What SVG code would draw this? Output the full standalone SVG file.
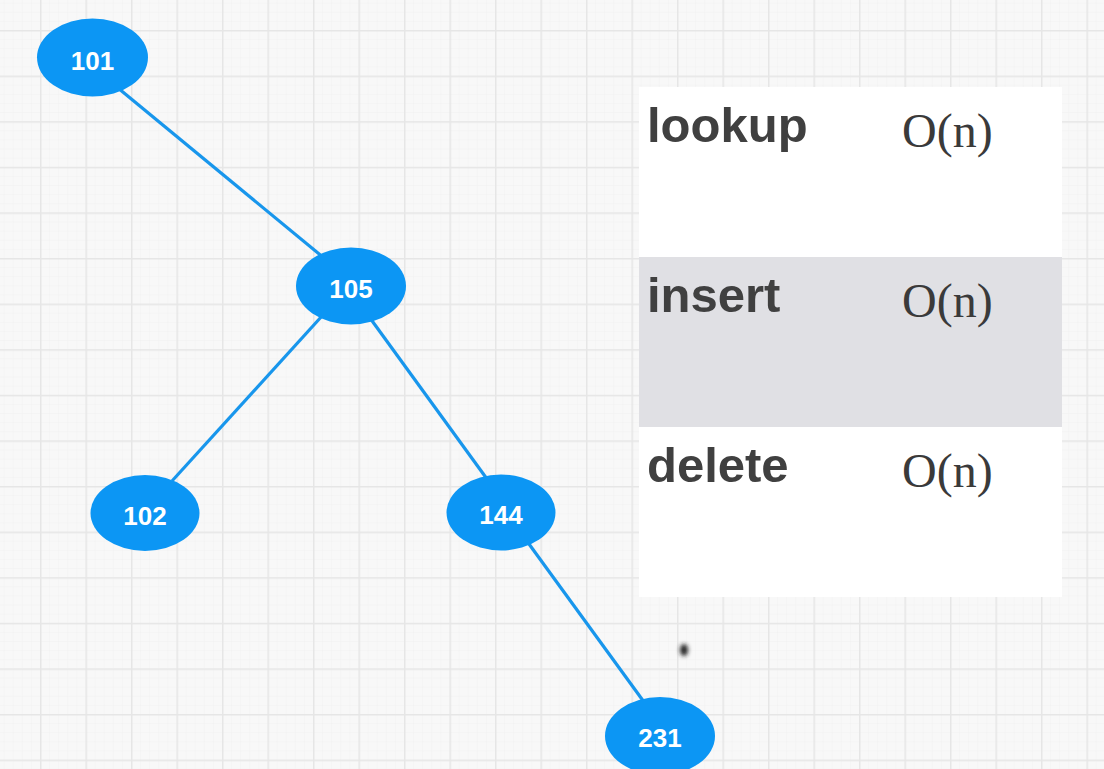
<svg xmlns="http://www.w3.org/2000/svg" width="1104" height="769" viewBox="0 0 1104 769">
  <defs>
    <pattern id="minor" x="40" y="30" width="9.1" height="9.12" patternUnits="userSpaceOnUse">
      <path d="M0 0V9.12M0 0H9.1" fill="none" stroke="#eeeeee" stroke-width="0.6"/>
    </pattern>
    <pattern id="major" x="40" y="30" width="45.5" height="45.6" patternUnits="userSpaceOnUse">
      <path d="M0.75 0V45.6M0 0.75H45.5" fill="none" stroke="#e6e6e6" stroke-width="1.5"/>
    </pattern>
    <filter id="blur" x="-1" y="-1" width="3" height="3">
      <feGaussianBlur stdDeviation="2.2"/>
    </filter>
  </defs>
  <style>
    .node ellipse { fill: #0c96f4; }
    .node text { fill: #ffffff; font-family: "Liberation Sans", Arial, sans-serif; font-weight: bold; font-size: 26px; text-anchor: middle; }
    .edge { stroke: #1896ec; stroke-width: 3.2; fill: none; }
    .op { font-family: "Liberation Sans", Arial, sans-serif; font-weight: bold; font-size: 49px; fill: #404040; }
    .cx { font-family: "Liberation Serif", "Times New Roman", serif; font-size: 48px; fill: #3a3a3a; }
  </style>

  <rect width="1104" height="769" fill="#f8f8f8"/>
  <rect width="1104" height="769" fill="url(#minor)"/>
  <rect width="1104" height="769" fill="url(#major)"/>

  <g id="table">
    <rect x="639" y="87" width="423" height="170" fill="#ffffff"/>
    <rect x="639" y="257" width="423" height="170" fill="#e0e0e4"/>
    <rect x="639" y="427" width="423" height="170" fill="#ffffff"/>
    <text class="op" x="647" y="142">lookup</text>
    <text class="cx" x="902" y="147">O(n)</text>
    <text class="op" x="647" y="312">insert</text>
    <text class="cx" x="902" y="317">O(n)</text>
    <text class="op" x="647" y="482">delete</text>
    <text class="cx" x="902" y="487">O(n)</text>
  </g>

  <g id="connectors">
    <line class="edge" x1="118" y1="88" x2="324" y2="258"/>
    <line class="edge" x1="322" y1="316" x2="172" y2="481"/>
    <line class="edge" x1="370" y1="318" x2="487" y2="479"/>
    <line class="edge" x1="529" y1="544" x2="644" y2="702"/>
  </g>

  <g id="n101" class="node">
    <ellipse cx="92.5" cy="57.5" rx="55.5" ry="39"/>
    <text x="92.5" y="70">101</text>
  </g>
  <g id="n105" class="node">
    <ellipse cx="351" cy="286" rx="55" ry="38.5"/>
    <text x="351" y="298">105</text>
  </g>
  <g id="n102" class="node">
    <ellipse cx="145" cy="513" rx="54.5" ry="38"/>
    <text x="145" y="525">102</text>
  </g>
  <g id="n144" class="node">
    <ellipse cx="501" cy="512.5" rx="54.5" ry="38"/>
    <text x="501" y="524">144</text>
  </g>
  <g id="n231" class="node">
    <ellipse cx="660" cy="736" rx="55" ry="39"/>
    <text x="660" y="747">231</text>
  </g>

  <ellipse cx="684" cy="650" rx="4" ry="6" fill="#222" filter="url(#blur)"/>
</svg>
